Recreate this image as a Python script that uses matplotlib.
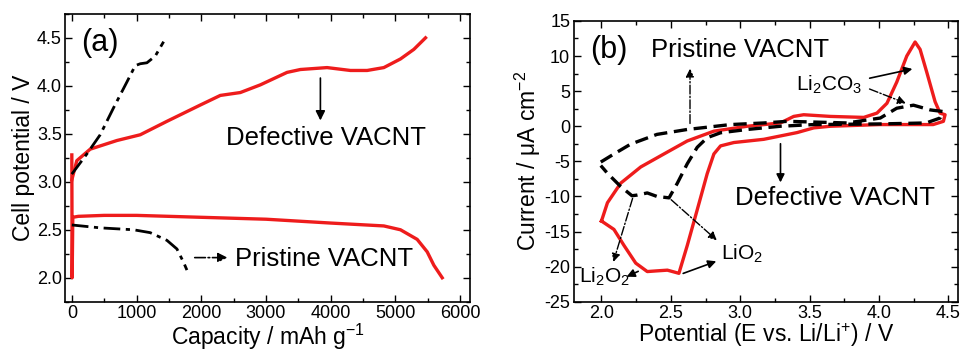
import numpy as np
import matplotlib
matplotlib.use("Agg")
from matplotlib import pyplot as plt
from matplotlib.ticker import MultipleLocator

plt.rcParams['font.family'] = ['Liberation Sans', 'DejaVu Sans']
plt.rcParams['axes.unicode_minus'] = False
plt.rcParams['mathtext.default'] = 'regular'

# ---- panel (a): discharge / charge curves ----
def_dis_x = [0, 5, 15, 100, 500, 1000, 2000, 3000, 4000, 4820, 5077, 5335, 5490, 5593, 5722]
def_dis_y = [3.28, 2.0, 2.63, 2.64, 2.65, 2.65, 2.63, 2.61, 2.57, 2.54, 2.50, 2.40, 2.27, 2.13, 2.0]
def_chg_x = [0, 77, 284, 696, 1057, 1469, 1985, 2294, 2603, 2912, 3325, 3531, 3943, 4304, 4562, 4820, 5077, 5284, 5464]
def_chg_y = [3.02, 3.22, 3.34, 3.43, 3.49, 3.63, 3.80, 3.90, 3.93, 4.01, 4.14, 4.17, 4.19, 4.16, 4.16, 4.19, 4.28, 4.38, 4.50]
pri_dis_x = [0, 438, 954, 1211, 1469, 1624, 1727, 1778]
pri_dis_y = [2.55, 2.52, 2.50, 2.47, 2.39, 2.30, 2.16, 2.08]
pri_chg_x = [0, 232, 438, 644, 851, 979, 1057, 1160, 1289, 1418]
pri_chg_y = [3.08, 3.29, 3.49, 3.77, 4.04, 4.21, 4.23, 4.24, 4.31, 4.46]

# ---- panel (b): cyclic voltammetry ----
def_cv_x = [2.0, 2.043, 2.139, 2.283, 2.45, 2.618, 2.81, 3.05, 3.29, 3.385, 3.457, 3.65, 3.89, 3.985,
            4.057, 4.128, 4.2, 4.26, 4.296, 4.344, 4.404, 4.44, 4.476, 4.464, 4.39, 4.25, 4.009, 3.65,
            3.53, 3.41, 3.17, 2.954, 2.858, 2.81, 2.762, 2.69, 2.618, 2.558, 2.475, 2.40, 2.33, 2.247,
            2.163, 2.09, 2.0]
def_cv_y = [-13.5, -10.9, -8.1, -5.8, -3.95, -2.1, -0.7, 0.0, 0.47, 1.4, 1.64, 1.4, 1.26, 1.87,
            3.27, 6.3, 10.0, 12.0, 10.95, 7.7, 3.5, 1.87, 1.64, 0.7, 0.24, 0.24, 0.24, 0.0,
            -0.23, -0.9, -1.86, -2.32, -2.8, -3.95, -6.75, -11.9, -17.0, -20.95, -20.5, -20.6, -20.7, -19.5,
            -17.0, -14.7, -13.5]
pri_cv_x = [1.995, 2.09, 2.21, 2.40, 2.618, 2.93, 3.17, 3.34, 3.77, 4.009, 4.128, 4.248, 4.368, 4.46,
            4.44, 4.34, 4.009, 3.53, 3.29, 3.05, 2.858, 2.762, 2.69, 2.618, 2.546, 2.487, 2.40, 2.33,
            2.259, 2.22, 2.139, 2.043, 1.995]
pri_cv_y = [-5.1, -3.95, -2.55, -1.16, -0.46, 0.24, 0.47, 0.7, 0.47, 1.17, 2.57, 3.0, 2.33, 2.1,
            1.17, 0.47, 0.33, 0.24, 0.0, -0.46, -0.93, -1.63, -3.0, -5.35, -8.14, -10.2, -10.0, -9.5,
            -9.8, -9.9, -8.6, -6.7, -5.6]

red = '#ee1c1c'
fig = plt.figure(figsize=(9.61, 3.55), dpi=100)
ax1 = fig.add_axes([0.068, 0.15, 0.421, 0.811])
ax2 = fig.add_axes([0.597, 0.15, 0.400, 0.791])

ax1.plot(def_dis_x, def_dis_y, color=red, lw=2.4)
ax1.plot(def_chg_x, def_chg_y, color=red, lw=2.4)
ax1.plot(pri_dis_x, pri_dis_y, color='black', lw=2.0, ls=(0, (6, 2, 1.5, 2)))
ax1.plot(pri_chg_x, pri_chg_y, color='black', lw=2.0, ls=(0, (6, 2, 1.5, 2)))
ax1.set_xlim(-100, 6150)
ax1.set_ylim(1.75, 4.75)
ax1.xaxis.set_major_locator(MultipleLocator(1000))
ax1.xaxis.set_minor_locator(MultipleLocator(500))
ax1.yaxis.set_major_locator(MultipleLocator(0.5))
ax1.yaxis.set_minor_locator(MultipleLocator(0.25))
ax1.set_xlabel('Capacity / mAh g$^{-1}$', fontsize=16.5, labelpad=-0.5)
ax1.set_ylabel('Cell potential / V', fontsize=16.5, labelpad=1)
ax1.text(150, 4.45, '(a)', fontsize=22, va='center')
ax1.text(3930, 3.46, 'Defective VACNT', fontsize=18.5, ha='center', va='center')
ax1.annotate('', xy=(3840, 3.61), xytext=(3840, 4.11),
             arrowprops=dict(arrowstyle='-|>', color='black', lw=1.2, mutation_scale=14))
ax1.text(3900, 2.20, 'Pristine VACNT', fontsize=18.5, ha='center', va='center')
ax1.annotate('', xy=(2448, 2.21), xytext=(1856, 2.21),
             arrowprops=dict(arrowstyle='-|>', color='black', lw=1.2, ls='-.', mutation_scale=14))

ax2.plot(def_cv_x, def_cv_y, color=red, lw=2.4)
ax2.plot(pri_cv_x, pri_cv_y, color='black', lw=2.4, ls=(0, (4, 2)))
ax2.set_xlim(1.8, 4.57)
ax2.set_ylim(-25, 15)
ax2.xaxis.set_major_locator(MultipleLocator(0.5))
ax2.xaxis.set_minor_locator(MultipleLocator(0.25))
ax2.yaxis.set_major_locator(MultipleLocator(5))
ax2.yaxis.set_minor_locator(MultipleLocator(2.5))
ax2.set_xlabel('Potential (E vs. Li/Li$^{+}$) / V', fontsize=16.5, labelpad=-0.5)
ax2.set_ylabel('Current / μA cm$^{-2}$', fontsize=16.5, labelpad=1)
ax2.text(1.92, 10.9, '(b)', fontsize=22, va='center')
ax2.text(3.0, 10.9, 'Pristine VACNT', fontsize=18.5, ha='center', va='center')
ax2.annotate('', xy=(2.638, 8.6), xytext=(2.638, 0.0),
             arrowprops=dict(arrowstyle='-|>', color='black', lw=1.0, ls='-.', mutation_scale=12))
ax2.text(3.64, 5.9, 'Li$_2$CO$_3$', fontsize=15, ha='center', va='center')
ax2.annotate('', xy=(4.26, 8.25), xytext=(3.913, 6.76),
             arrowprops=dict(arrowstyle='-|>', color='black', lw=1.2, mutation_scale=12))
ax2.annotate('', xy=(4.212, 3.13), xytext=(3.913, 5.45),
             arrowprops=dict(arrowstyle='-|>', color='black', lw=1.0, ls='-.', mutation_scale=12))
ax2.text(3.685, -10.2, 'Defective VACNT', fontsize=18.5, ha='center', va='center')
ax2.annotate('', xy=(3.29, -8.4), xytext=(3.29, -2.1),
             arrowprops=dict(arrowstyle='-|>', color='black', lw=1.2, mutation_scale=12))
ax2.text(2.86, -18.2, 'LiO$_2$', fontsize=15, ha='left', va='center')
ax2.annotate('', xy=(2.846, -16.5), xytext=(2.487, -10.2),
             arrowprops=dict(arrowstyle='-|>', color='black', lw=1.0, ls='-.', mutation_scale=12))
ax2.annotate('', xy=(2.846, -19.1), xytext=(2.57, -21.1),
             arrowprops=dict(arrowstyle='-|>', color='black', lw=1.2, mutation_scale=12))
ax2.text(2.02, -21.5, 'Li$_2$O$_2$', fontsize=15, ha='center', va='center')
ax2.annotate('', xy=(2.08, -19.7), xytext=(2.23, -9.9),
             arrowprops=dict(arrowstyle='-|>', color='black', lw=1.0, ls='-.', mutation_scale=12))
ax2.annotate('', xy=(2.163, -21.6), xytext=(2.283, -20.5),
             arrowprops=dict(arrowstyle='-|>', color='black', lw=1.2, mutation_scale=12))

for ax in (ax1, ax2):
    ax.tick_params(which='both', direction='in', top=True, right=True, labelsize=13, pad=2.5)
    ax.tick_params(which='major', length=5, width=1)
    ax.tick_params(which='minor', length=3, width=1)
    for s in ax.spines.values():
        s.set_linewidth(1.2)

fig.savefig('out.png', dpi=100)
